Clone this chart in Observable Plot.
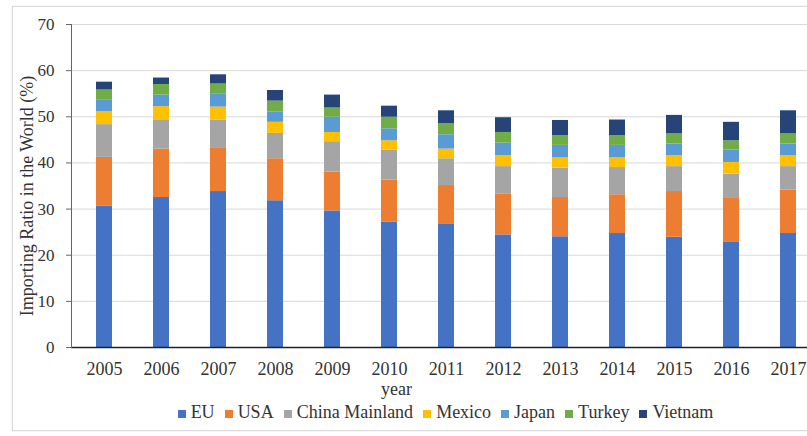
<!DOCTYPE html>
<html>
<head>
<meta charset="utf-8">
<script src="https://cdn.jsdelivr.net/npm/d3@7"></script>
<script src="https://cdn.jsdelivr.net/npm/@observablehq/plot@0.6"></script>
<style>
  html, body { margin: 0; padding: 0; background: #fff; overflow: hidden; }
  #wrap { position: relative; width: 807px; height: 436px; overflow: hidden; background: #fff; }
  #border { position: absolute; left: 12px; top: 6px; width: 830px; height: 423px; border: 1px solid #d9d9d9; box-shadow: 0 0 2px #e6e6e6; }
  #chart { position: absolute; left: 0; top: 0; }
  #legend { position: absolute; left: 0; top: 402px; width: 891px; display: flex; justify-content: center; align-items: center;
            font-family: "Liberation Serif", "Times New Roman", serif; font-size: 18px; color: #333; white-space: nowrap; }
  .item { display: flex; align-items: center; margin: 0 5px; }
  .sw { display: inline-block; width: 8px; height: 8px; margin-right: 5px; margin-top: 2px; }
</style>
</head>
<body>
<div id="wrap">
  <div id="border"></div>
  <div id="chart"></div>
  <div id="legend"></div>
</div>
<script>
const years = ["2005","2006","2007","2008","2009","2010","2011","2012","2013","2014","2015","2016","2017"];
const seriesNames = ["EU","USA","China Mainland","Mexico","Japan","Turkey","Vietnam"];
const seriesColors = ["#4472C4","#ED7D31","#A5A5A5","#FFC000","#5B9BD5","#70AD47","#264478"];
const yTicks = [0,10,20,30,40,50,60,70];

const EU      = [30.6,32.5,33.8,31.8,29.6,27.2,26.8,24.4,24.0,24.7,23.9,22.9,24.7];
const USA     = [10.6,10.5, 9.5, 9.1, 8.4, 9.1, 8.3, 8.9, 8.5, 8.4, 9.9, 9.4, 9.4];
const China   = [ 7.1, 6.2, 6.0, 5.5, 6.6, 6.5, 5.8, 5.9, 6.4, 5.9, 5.4, 5.3, 5.1];
const Mexico  = [ 2.8, 3.0, 2.8, 2.4, 2.0, 2.0, 2.1, 2.4, 2.2, 2.1, 2.4, 2.5, 2.4];
const Japan   = [ 2.6, 2.5, 2.9, 2.2, 3.3, 2.6, 3.1, 2.7, 2.7, 2.7, 2.5, 2.7, 2.5];
const Turkey  = [ 2.1, 2.3, 2.1, 2.4, 2.0, 2.5, 2.4, 2.3, 2.1, 2.1, 2.2, 2.0, 2.2];
const Vietnam = [ 1.7, 1.4, 2.0, 2.3, 2.8, 2.4, 2.8, 3.2, 3.3, 3.4, 4.0, 4.0, 5.0];

const seriesValues = [EU, USA, China, Mexico, Japan, Turkey, Vietnam];
const data = [];
seriesNames.forEach((s, si) => {
  years.forEach((y, yi) => data.push({year: y, series: s, value: seriesValues[si][yi]}));
});

const font = "'Liberation Serif', 'Times New Roman', serif";

const chart = Plot.plot({
  width: 807,
  height: 400,
  marginLeft: 71,
  marginRight: 0,
  marginTop: 24,
  marginBottom: 53,
  style: {fontFamily: font, fontSize: "18px", color: "#333", background: "transparent", overflow: "visible"},
  x: {domain: years, range: [71, 820], paddingInner: 0.72, paddingOuter: 0.36, label: null},
  y: {domain: [0, 70], label: null},
  color: {domain: seriesNames, range: seriesColors},
  marks: [
    Plot.gridY(yTicks, {stroke: "#d9d9d9", strokeOpacity: 1}),
    Plot.barY(data, Plot.stackY({x: "year", y: "value", fill: "series", order: seriesNames})),
    Plot.ruleY([0], {stroke: "#222", strokeWidth: 1.3}),
    Plot.frame({anchor: "left", stroke: "#666"}),
    Plot.axisY(yTicks, {tickSize: 5, tickPadding: 12, stroke: "#666", fontSize: 17, fontFamily: font, label: null}),
    Plot.axisX({tickSize: 0, tickPadding: 15, fontSize: 18, fontFamily: font, label: null}),
    Plot.text(["year"], {text: d => d, frameAnchor: "bottom", textAnchor: "middle", lineAnchor: "middle", dx: -43, dy: 42, fontSize: 18, fontFamily: font}),
    Plot.text(["Importing Ratio in the World (%)"], {text: d => d, frameAnchor: "left", textAnchor: "middle", lineAnchor: "middle", rotate: -90, dx: -44, dy: 10, fontSize: 18, fontFamily: font})
  ]
});
document.getElementById("chart").appendChild(chart);

const legend = document.getElementById("legend");
seriesNames.forEach((s, i) => {
  const item = document.createElement("span");
  item.className = "item";
  const sw = document.createElement("span");
  sw.className = "sw";
  sw.style.background = seriesColors[i];
  const lab = document.createElement("span");
  lab.textContent = s;
  item.appendChild(sw);
  item.appendChild(lab);
  legend.appendChild(item);
});
</script>
</body>
</html>
